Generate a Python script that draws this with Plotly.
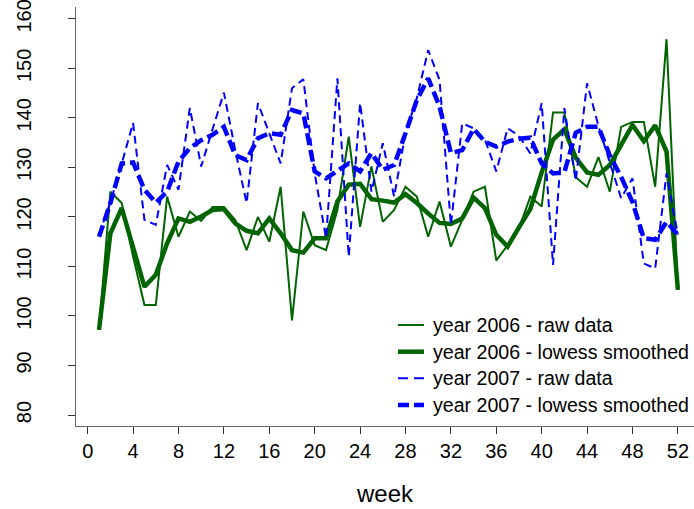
import plotly.graph_objects as go

weeks = list(range(1, 53))

raw_2006 = [97.2, 125.1, 122.8, 112.0, 102.2, 102.2, 124.1, 116.0, 121.1, 119.2,
            122.0, 122.0, 119.4, 113.3, 120.0, 115.0, 126.1, 99.1, 121.1, 114.3,
            113.3, 121.4, 136.2, 118.0, 130.2, 119.0, 121.4, 126.1, 124.1, 116.0,
            123.1, 114.0, 119.4, 125.1, 126.1, 111.2, 114.3, 117.7, 124.1, 122.1,
            141.1, 141.1, 128.0, 126.1, 132.1, 125.1, 138.2, 139.2, 139.2, 126.1,
            155.9, 105.3]

smooth_2006 = [97.2, 116.7, 121.8, 114.0, 105.9, 108.3, 114.7, 119.7, 119.0, 120.1,
               121.4, 121.6, 118.7, 117.2, 116.7, 119.7, 116.7, 113.3, 112.8, 115.7,
               115.7, 123.1, 126.5, 126.7, 123.6, 123.3, 122.9, 124.6, 122.8, 120.7,
               118.8, 118.6, 119.7, 123.9, 121.8, 116.4, 114.0, 117.9, 121.6, 129.0,
               135.6, 137.7, 132.0, 129.0, 128.5, 130.5, 134.5, 138.6, 135.3, 138.5,
               133.2, 105.3]

raw_2007 = [116.4, 123.0, 130.8, 139.0, 119.4, 118.4, 130.5, 125.5, 142.0, 130.2,
            137.7, 145.1, 133.5, 122.8, 143.0, 136.9, 130.8, 146.0, 147.8, 128.8,
            115.7, 148.0, 112.0, 143.0, 125.1, 134.9, 124.1, 136.9, 144.0, 153.7,
            147.7, 118.4, 138.9, 137.9, 135.6, 129.2, 137.9, 136.4, 132.8, 143.0,
            110.3, 142.0, 127.3, 147.0, 138.4, 131.0, 123.8, 127.8, 110.6, 109.6,
            128.8, 116.4]

smooth_2007 = [116.0, 122.8, 130.8, 131.0, 125.5, 122.9, 125.1, 131.2, 133.9, 135.5,
               136.6, 138.2, 132.5, 131.5, 135.9, 136.9, 136.6, 141.6, 140.9, 129.2,
               127.8, 129.2, 130.8, 129.2, 132.9, 129.5, 130.5, 136.9, 143.6, 148.0,
               142.3, 132.9, 133.5, 137.8, 135.2, 134.2, 135.2, 135.8, 136.0, 130.8,
               128.8, 129.0, 137.0, 138.2, 138.2, 132.4, 128.1, 123.0, 115.7, 115.4,
               119.0, 116.4]

series_names = ["year 2006 - raw data", "year 2006 - lowess smoothed",
                "year 2007 - raw data", "year 2007 - lowess smoothed"]

x_ticks = list(range(0, 53, 4))
y_ticks = list(range(80, 161, 10))

GREEN = "#006400"
BLUE = "#0000FF"
FONT = "Liberation Sans, Arial, sans-serif"

styles = [dict(color=GREEN, width=2),
          dict(color=GREEN, width=4.5),
          dict(color=BLUE, width=2, dash="8px,5px"),
          dict(color=BLUE, width=4.5, dash="12px,5px")]
legend_dash = ["solid", "solid", "10px,6px", "11px,5px"]
series = [raw_2006, smooth_2006, raw_2007, smooth_2007]

fig = go.Figure()
for name, vals, st in zip(series_names, series, styles):
    fig.add_trace(go.Scatter(x=weeks, y=vals, mode="lines", name=name, line=st))

# manual legend (plot area: x 76..694 px, y 7..426 px)
W, H, L, T = 618.0, 419.0, 76.0, 7.0
def px(x):
    return (x - L) / W
def py(y):
    return (T + H - y) / H

row_y = [325, 351.7, 378.3, 405]
shapes = []
annotations = []
for name, st, dash, ry in zip(series_names, styles, legend_dash, row_y):
    shapes.append(dict(type="line", xref="paper", yref="paper",
                       x0=px(398), x1=px(424), y0=py(ry), y1=py(ry),
                       line=dict(color=st["color"], width=st["width"], dash=dash)))
    annotations.append(dict(text=name, xref="paper", yref="paper", x=px(431), y=py(ry),
                            xanchor="left", yanchor="middle", showarrow=False,
                            font=dict(size=19.6, family=FONT, color="black")))

fig.update_layout(
    width=694, height=509,
    margin=dict(l=76, r=0, t=7, b=83),
    plot_bgcolor="white", paper_bgcolor="white",
    font=dict(family=FONT, size=19, color="black"),
    showlegend=False,
    shapes=shapes,
    annotations=annotations,
    xaxis=dict(range=[-1.03, 53.42], tickvals=x_ticks, ticktext=[str(t) for t in x_ticks],
               showgrid=False, zeroline=False, showline=True, linecolor="#666", linewidth=1,
               ticks="outside", ticklen=7, tickcolor="#333", tickfont=dict(size=20),
               title=dict(text="week", font=dict(size=24), standoff=24)),
    yaxis=dict(range=[77.78, 162.4], tickvals=y_ticks, ticktext=[str(t) for t in y_ticks],
               showgrid=False, zeroline=False, showline=True, linecolor="#666", linewidth=1,
               ticks="outside", ticklen=7, tickcolor="#333", tickfont=dict(size=20),
               tickangle=-90, ticklabelstandoff=29, ticklabeloverflow="allow"),
)

fig.write_html("out.html")
